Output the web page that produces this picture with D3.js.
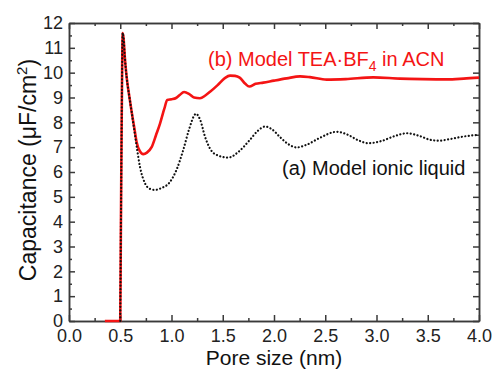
<!DOCTYPE html>
<html>
<head>
<meta charset="utf-8">
<script src="https://cdn.jsdelivr.net/npm/d3@7"></script>
<style>
  body { margin: 0; background: #fff; }
  text { font-family: "Liberation Sans", Arial, sans-serif; }
</style>
</head>
<body>
<svg id="chart" width="496" height="370"></svg>
<script>
// pore size (nm) and capacitance (uF/cm2)
const tbaX = [0.35, 0.50, 0.505, 0.512, 0.518, 0.524, 0.532, 0.545, 0.563, 0.59, 0.612, 0.64, 0.66, 0.69, 0.725,
  0.76, 0.806, 0.85, 0.888, 0.93, 0.959, 1.0, 1.044, 1.08, 1.122, 1.17, 1.22, 1.278, 1.33, 1.376, 1.45, 1.52,
  1.571, 1.62, 1.665, 1.72, 1.759, 1.82, 1.896, 2.0, 2.124, 2.254, 2.35, 2.514, 2.7, 2.969, 3.229, 3.45, 3.685,
  3.85, 4.0];
const tbaY = [0, 0, 3, 7, 10, 11.6, 11.4, 10.6, 9.8, 9.0, 8.4, 7.7, 7.2, 6.85, 6.72,
  6.78, 7.0, 7.5, 7.95, 8.55, 8.9, 8.93, 8.98, 9.1, 9.22, 9.15, 9.0, 8.97, 9.08, 9.23, 9.5, 9.78,
  9.88, 9.87, 9.8, 9.55, 9.44, 9.55, 9.6, 9.68, 9.77, 9.85, 9.82, 9.72, 9.74, 9.81, 9.76, 9.74, 9.73,
  9.76, 9.8];

const ilX = [0.50, 0.505, 0.512, 0.518, 0.524, 0.532, 0.545, 0.563, 0.59, 0.612, 0.64, 0.665, 0.693, 0.741,
  0.79, 0.839, 0.9, 0.985, 1.05, 1.115, 1.17, 1.239, 1.28, 1.327, 1.375, 1.424, 1.554, 1.65, 1.766, 1.84,
  1.912, 1.98, 2.06, 2.14, 2.221, 2.32, 2.45, 2.611, 2.72, 2.82, 2.92, 3.05, 3.18, 3.294, 3.42, 3.52, 3.603,
  3.72, 3.85, 4.0];
const ilY = [0, 3, 7, 10, 11.6, 11.4, 10.6, 9.8, 9.0, 8.4, 7.6, 6.9, 6.2, 5.55,
  5.32, 5.28, 5.35, 5.6, 6.1, 6.89, 7.7, 8.34, 8.1, 7.42, 6.95, 6.72, 6.58, 6.8, 7.3, 7.65,
  7.83, 7.72, 7.4, 7.12, 6.99, 7.1, 7.38, 7.62, 7.5, 7.28, 7.16, 7.25, 7.45, 7.56, 7.45, 7.3, 7.26,
  7.33, 7.43, 7.5];

const xTicks = [0, 0.5, 1, 1.5, 2, 2.5, 3, 3.5, 4];
const yTicks = [0, 1, 2, 3, 4, 5, 6, 7, 8, 9, 10, 11, 12];

const margin = {top: 23, right: 17, bottom: 49, left: 69};
const width = 496 - margin.left - margin.right;
const height = 370 - margin.top - margin.bottom;

const svg = d3.select('#chart');
const g = svg.append('g').attr('transform', 'translate(' + margin.left + ',' + margin.top + ')');

const x = d3.scaleLinear().domain([0, 4]).range([0, width]);
const y = d3.scaleLinear().domain([0, 12]).range([height, 0]);

const xMinor = d3.range(0.25, 4, 0.5);
const yMinor = d3.range(0.5, 12, 1);

function styleAxis(sel) {
  sel.selectAll('path, line').attr('stroke', '#3a3a3a').attr('stroke-width', 1.5);
  sel.selectAll('text').attr('fill', '#222').style('font-size', '18px');
}

// bottom + left with labels, top + right mirrored
g.append('g').attr('transform', 'translate(0,' + height + ')')
  .call(d3.axisBottom(x).tickValues(xTicks).tickFormat(d3.format('.1f')).tickSize(-6).tickSizeOuter(0).tickPadding(8))
  .call(styleAxis);
g.append('g').attr('transform', 'translate(0,' + height + ')')
  .call(d3.axisBottom(x).tickValues(xMinor).tickFormat('').tickSize(-3).tickSizeOuter(0))
  .call(styleAxis);
g.append('g')
  .call(d3.axisLeft(y).tickValues(yTicks).tickSize(-6).tickSizeOuter(0).tickPadding(6))
  .call(styleAxis);
g.append('g')
  .call(d3.axisLeft(y).tickValues(yMinor).tickFormat('').tickSize(-3).tickSizeOuter(0))
  .call(styleAxis);
g.append('g')
  .call(d3.axisTop(x).tickValues(xTicks).tickFormat('').tickSize(-6).tickSizeOuter(0))
  .call(styleAxis);
g.append('g')
  .call(d3.axisTop(x).tickValues(xMinor).tickFormat('').tickSize(-3).tickSizeOuter(0))
  .call(styleAxis);
g.append('g').attr('transform', 'translate(' + width + ',0)')
  .call(d3.axisRight(y).tickValues(yTicks).tickFormat('').tickSize(-6).tickSizeOuter(0))
  .call(styleAxis);
g.append('g').attr('transform', 'translate(' + width + ',0)')
  .call(d3.axisRight(y).tickValues(yMinor).tickFormat('').tickSize(-3).tickSizeOuter(0))
  .call(styleAxis);

const line = d3.line()
  .x(d => x(d[0]))
  .y(d => y(d[1]))
  .curve(d3.curveMonotoneX);

g.append('path')
  .datum(d3.zip(tbaX, tbaY))
  .attr('fill', 'none')
  .attr('stroke', '#f41414')
  .attr('stroke-width', 2.6)
  .attr('stroke-linejoin', 'round')
  .attr('d', line);

g.append('path')
  .datum(d3.zip(ilX, ilY))
  .attr('fill', 'none')
  .attr('stroke', '#111')
  .attr('stroke-width', 2.2)
  .attr('stroke-linecap', 'round')
  .attr('stroke-dasharray', '0.1,3.4')
  .attr('d', line);

// curve labels
const lb = g.append('text')
  .attr('x', x(1.356)).attr('y', y(10.27))
  .attr('fill', '#f41414').style('font-size', '20px');
lb.append('tspan').text('(b) Model TEA\u00b7BF');
lb.append('tspan').attr('dy', 5).style('font-size', '14px').text('4');
lb.append('tspan').attr('dy', -5).text(' in ACN');

g.append('text')
  .attr('x', x(2.078)).attr('y', y(5.88))
  .attr('fill', '#111').style('font-size', '20px')
  .text('(a) Model ionic liquid');

// axis titles
svg.append('text')
  .attr('x', margin.left + width / 2).attr('y', 365)
  .attr('text-anchor', 'middle')
  .attr('fill', '#111').style('font-size', '21px')
  .text('Pore size (nm)');

const yt = svg.append('text')
  .attr('transform', 'translate(36,' + (margin.top + height / 2 - 2) + ') rotate(-90)')
  .attr('text-anchor', 'middle')
  .attr('fill', '#111').style('font-size', '23px');
yt.append('tspan').text('Capacitance (\u03bcF/cm');
yt.append('tspan').attr('dy', -9).style('font-size', '15px').text('2');
yt.append('tspan').attr('dy', 9).text(')');
</script>
</body>
</html>
